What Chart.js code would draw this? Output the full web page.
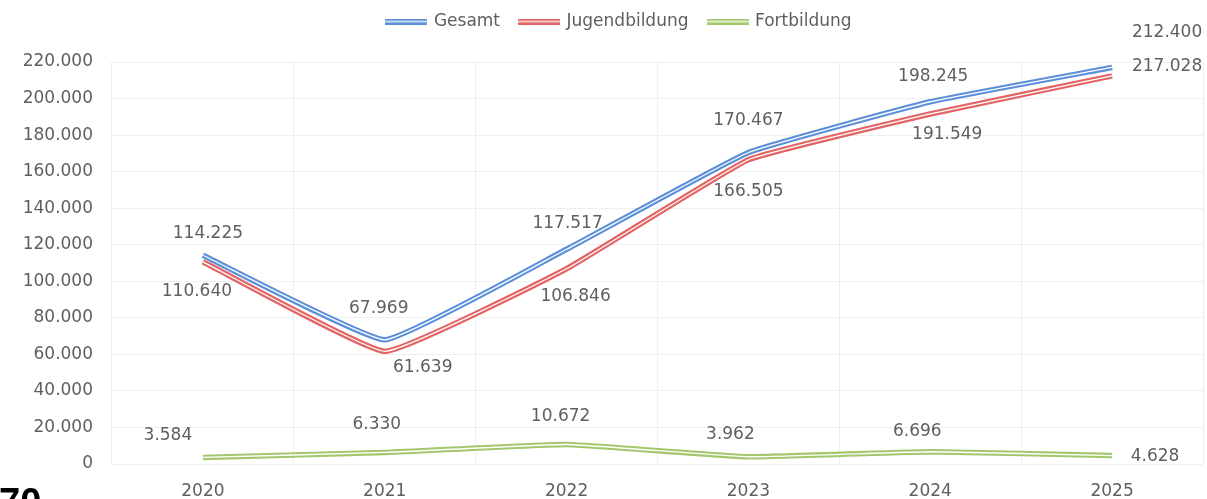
<!DOCTYPE html>
<html>
<head>
<meta charset="utf-8">
<script src="https://cdn.jsdelivr.net/npm/chart.js@4/dist/chart.umd.min.js"></script>
<style>
  html, body { margin: 0; padding: 0; background: #fff; }
  #wrap { position: relative; width: 1207px; height: 499px; overflow: hidden; }
  #page { position: absolute; left: -1px; top: 483px; font: bold 38px "Liberation Sans", Arial, sans-serif; line-height: 38px; color: #000; }
</style>
</head>
<body>
<div id="wrap">
  <canvas id="chart" width="1207" height="499"></canvas>
  <div id="page">70</div>
</div>
<script>
// Daten
const years = ['2020', '2021', '2022', '2023', '2024', '2025'];
const gesamt = [114225, 67969, 117517, 170467, 198245, 217028];
const jugend = [110640, 61639, 106846, 166505, 191549, 212400];
const fort = [3584, 6330, 10672, 3962, 6696, 4628];
const yTicks = [0, 20000, 40000, 60000, 80000, 100000, 120000, 140000, 160000, 180000, 200000, 220000];

// Lage der Datenbeschriftungen (dx, dy zum Punkt)
const gesamtLabelPos = [[5, -22], [-6, -31], [1, -26], [0, -32], [3, -25], [55, -1]];
const jugendLabelPos = [[-6, 30], [38, 16], [9, 28], [0, 32], [17, 21], [55, -43]];
const fortLabelPos = [[-35, -22], [-8, -28], [-6, -28], [-18, -22], [-13, -20], [43, 1]];

const BLUE = '#5b8fd9';
const RED = '#e36464';
const GREEN = '#a3c76c';
const TEXT = '#5f5f5f';
const FONT = '"DejaVu Sans", sans-serif';

const fmt = v => v.toLocaleString('de-DE');

// Doppellinie fuer die Legende
function legendLine(color) {
    const c = document.createElement('canvas');
    c.width = 42; c.height = 6;
    const g = c.getContext('2d');
    g.fillStyle = color;
    g.fillRect(0, 0, 42, 6);
    g.fillStyle = '#fff';
    g.fillRect(0, 2.4, 42, 1.3);
    return c;
}

function series(label, data, color, pos) {
    return {
        label: label,
        data: data,
        borderColor: color,
        backgroundColor: color,
        borderWidth: 5.5,
        tension: 0.1,
        pointRadius: 0,
        pointStyle: legendLine(color),
        labelPos: pos
    };
}

// weisse Mittellinie + Beschriftungen
const doubleLine = {
    id: 'doubleLine',
    afterDatasetDraw(chart, args) {
        const ctx = chart.ctx;
        const line = args.meta.dataset;
        ctx.save();
        ctx.beginPath();
        line.path(ctx);
        ctx.strokeStyle = '#fff';
        ctx.lineWidth = 1.3;
        ctx.stroke();
        ctx.restore();
    },
    afterDatasetsDraw(chart) {
        const ctx = chart.ctx;
        ctx.save();
        ctx.font = '17px ' + FONT;
        ctx.fillStyle = TEXT;
        ctx.textAlign = 'center';
        ctx.textBaseline = 'middle';
        chart.data.datasets.forEach((ds, i) => {
            const meta = chart.getDatasetMeta(i);
            meta.data.forEach((pt, j) => {
                const p = ds.labelPos[j];
                ctx.fillText(fmt(ds.data[j]), pt.x + p[0], pt.y + p[1]);
            });
        });
        ctx.restore();
    }
};

const legendSpace = {
    id: 'legendSpace',
    beforeInit(chart) {
        const fit = chart.legend.fit;
        chart.legend.fit = function () {
            fit.bind(chart.legend)();
            this.height = 62;
        };
    },
    afterLayout(chart) {
        chart.legend.left += 18;
        chart.legend.right += 18;
        chart.legend.top -= 7;
    }
};

new Chart(document.getElementById('chart'), {
    type: 'line',
    data: {
        labels: years,
        datasets: [
            series('Gesamt', gesamt, BLUE, gesamtLabelPos),
            series('Jugendbildung', jugend, RED, jugendLabelPos),
            series('Fortbildung', fort, GREEN, fortLabelPos)
        ]
    },
    options: {
        responsive: false,
        animation: false,
        layout: { padding: { left: 0, right: 4, top: 0, bottom: 0 } },
        plugins: {
            legend: {
                position: 'top',
                labels: {
                    usePointStyle: true,
                    pointStyleWidth: 38,
                    boxHeight: 17,
                    padding: 20,
                    color: TEXT,
                    font: { family: FONT, size: 17 }
                }
            },
            tooltip: { enabled: false }
        },
        scales: {
            x: {
                offset: true,
                grid: { offset: true, color: '#efefef', drawTicks: false },
                border: { display: false },
                ticks: { color: TEXT, font: { family: FONT, size: 17 }, padding: 17 },
                afterFit(s) { s.height = 35; }
            },
            y: {
                min: 0,
                max: 220000,
                afterBuildTicks(s) { s.ticks = yTicks.map(v => ({ value: v })); },
                grid: { color: '#efefef', drawTicks: false },
                border: { display: false },
                ticks: { color: TEXT, font: { family: FONT, size: 17 }, padding: 19, callback: v => fmt(v) },
                afterFit(s) { s.width = 112; }
            }
        }
    },
    plugins: [doubleLine, legendSpace]
});
</script>
</body>
</html>
